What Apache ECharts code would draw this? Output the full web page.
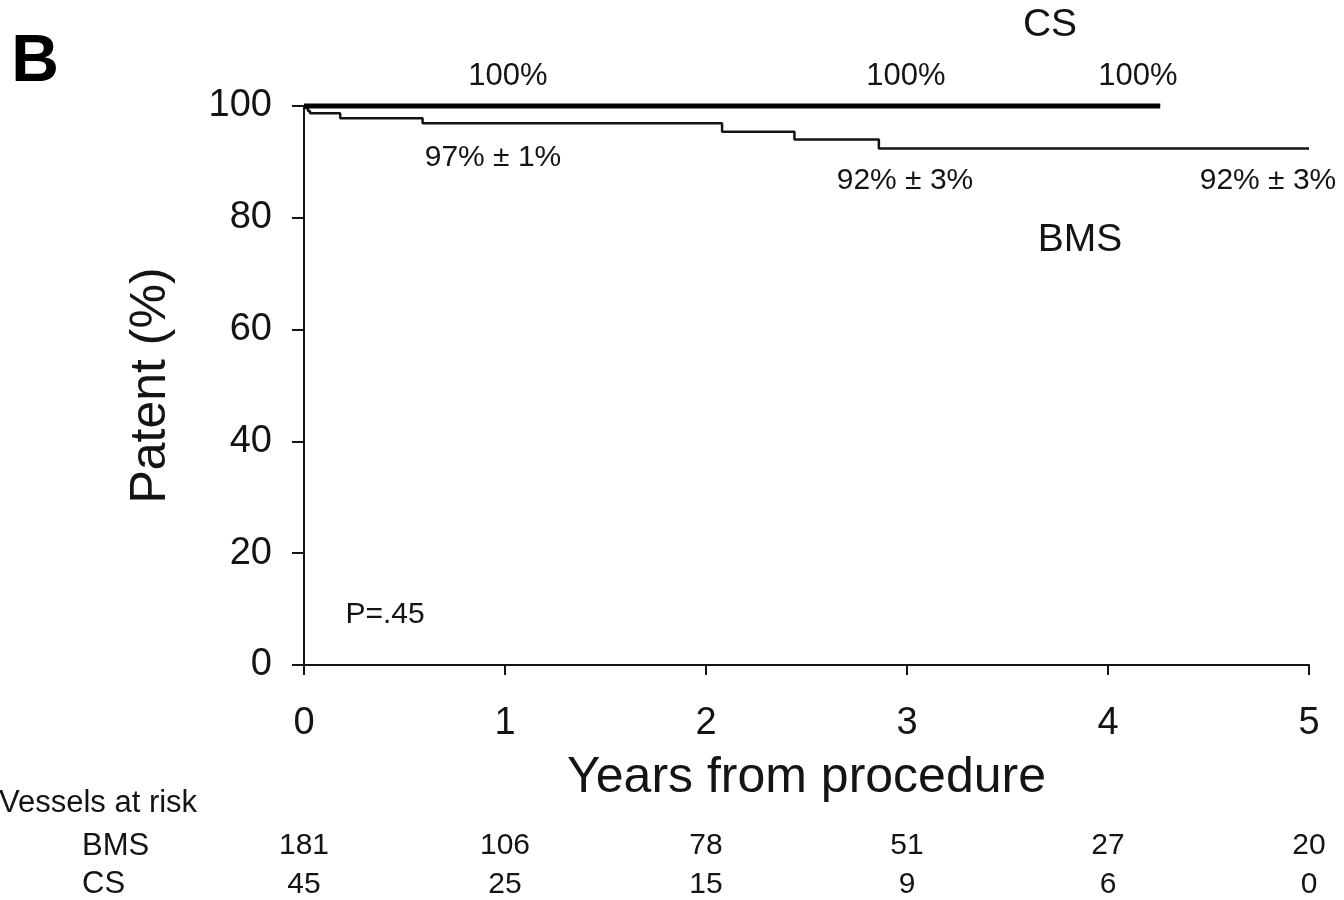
<!DOCTYPE html>
<html>
<head>
<meta charset="utf-8">
<script src="https://cdn.jsdelivr.net/npm/echarts@6/dist/echarts.min.js"></script>
<style>html,body{margin:0;padding:0;background:#fff;}#c{width:1344px;height:900px;}</style>
</head>
<body>
<div id="c"></div>
<script>
// ---- data ----
const bmsTimes = [0, 0.01, 0.02, 0.03, 0.18, 0.59, 2.08, 2.44, 2.86, 5.0];
const bmsSurv  = [100, 99.6, 99.1, 98.7, 97.8, 96.9, 95.4, 94.0, 92.4, 92.4];
const csTimes  = [0, 4.26];
const csSurv   = [100, 100];
const yTicks   = [0, 20, 40, 60, 80, 100];
const xTicks   = [0, 1, 2, 3, 4, 5];
const riskYears = [0, 1, 2, 3, 4, 5];
const riskRows  = ['BMS', 'CS'];
const bmsRisk   = [181, 106, 78, 51, 27, 20];
const csRisk    = [45, 25, 15, 9, 6, 0];

const FONT = '"Liberation Sans", Arial, sans-serif';
const INK = '#141414';

const chart = echarts.init(document.getElementById('c'), null, {renderer: 'canvas'});

const bmsData = bmsTimes.map((t, i) => [t, bmsSurv[i]]);
const csData = csTimes.map((t, i) => [t, csSurv[i]]);
const riskData = [];
riskYears.forEach((y, i) => { riskData.push([y, 'BMS', bmsRisk[i]]); });
riskYears.forEach((y, i) => { riskData.push([y, 'CS', csRisk[i]]); });

function txt(text, x, y, size, extra) {
  return Object.assign({
    type: 'text', x: x, y: y, silent: true,
    style: {text: text, font: size + 'px ' + FONT, fill: INK, align: 'center', verticalAlign: 'middle'}
  }, extra || {});
}

const option = {
  backgroundColor: '#fff',
  animation: false,
  grid: [
    {left: 304, right: 35, top: 106, bottom: 235},
    {left: 304, right: 35, top: 846, height: 40}
  ],
  xAxis: [
    {
      type: 'value', gridIndex: 0, min: 0, max: 5, interval: 1,
      name: 'Years from procedure', nameLocation: 'middle', nameGap: 88,
      nameTextStyle: {fontFamily: FONT, fontSize: 50, color: INK},
      axisLine: {show: true, onZero: false, lineStyle: {color: INK, width: 2}},
      axisTick: {show: true, length: 10, inside: false, lineStyle: {color: INK, width: 2}},
      axisLabel: {fontFamily: FONT, fontSize: 38, color: INK, margin: 40,
        formatter: v => xTicks.indexOf(v) >= 0 ? String(v) : ''},
      splitLine: {show: false}
    },
    {
      type: 'value', gridIndex: 1, min: 0, max: 5, show: false
    }
  ],
  yAxis: [
    {
      type: 'value', gridIndex: 0, min: 0, max: 100, interval: 20,
      name: 'Patent (%)', nameLocation: 'middle', nameGap: 128, nameRotate: 90,
      nameTextStyle: {fontFamily: FONT, fontSize: 50, color: INK},
      axisLine: {show: true, lineStyle: {color: INK, width: 2}},
      axisTick: {show: true, length: 12, lineStyle: {color: INK, width: 2}},
      axisLabel: {fontFamily: FONT, fontSize: 38, color: INK, margin: 32,
        formatter: v => yTicks.indexOf(v) >= 0 ? String(v) : ''},
      splitLine: {show: false}
    },
    {
      type: 'category', gridIndex: 1, data: riskRows, inverse: true, boundaryGap: false,
      axisLine: {show: false}, axisTick: {show: false}, splitLine: {show: false},
      axisLabel: {interval: 0, fontFamily: FONT, fontSize: 31, color: INK, align: 'left', margin: 222}
    }
  ],
  series: [
    {
      name: 'BMS', type: 'line', xAxisIndex: 0, yAxisIndex: 0, data: bmsData,
      step: 'end', showSymbol: false, symbol: 'none', clip: false,
      lineStyle: {color: INK, width: 2.5}, z: 3
    },
    {
      name: 'CS', type: 'line', xAxisIndex: 0, yAxisIndex: 0, data: csData,
      showSymbol: false, symbol: 'none', clip: false,
      lineStyle: {color: '#000', width: 5}, z: 4
    },
    {
      name: 'risk', type: 'scatter', xAxisIndex: 1, yAxisIndex: 1, data: riskData,
      symbol: 'circle', symbolSize: 0, itemStyle: {color: '#fff', opacity: 1}, clip: false,
      label: {show: true, position: 'inside', fontFamily: FONT, fontSize: 30, color: INK,
        opacity: 1, formatter: p => String(p.value[2])}
    }
  ],
  graphic: [
    txt('B', 35, 63, 66, {style: {text: 'B', font: 'bold 66px ' + FONT, fill: '#000', align: 'center', verticalAlign: 'middle'}}),
    txt('CS', 1050, 25, 39),
    txt('BMS', 1080, 240, 39),
    txt('100%', 508, 76, 31),
    txt('100%', 906, 76, 31),
    txt('100%', 1138, 76, 31),
    txt('97% \u00b1 1%', 493, 158, 30),
    txt('92% \u00b1 3%', 905, 181, 30),
    txt('92% \u00b1 3%', 1268, 181, 30),
    txt('P=.45', 385, 615, 30),
    {type: 'text', x: -1, y: 803, silent: true,
      style: {text: 'Vessels at risk', font: '31px ' + FONT, fill: INK, align: 'left', verticalAlign: 'middle'}}
  ]
};
chart.setOption(option);
</script>
</body>
</html>
